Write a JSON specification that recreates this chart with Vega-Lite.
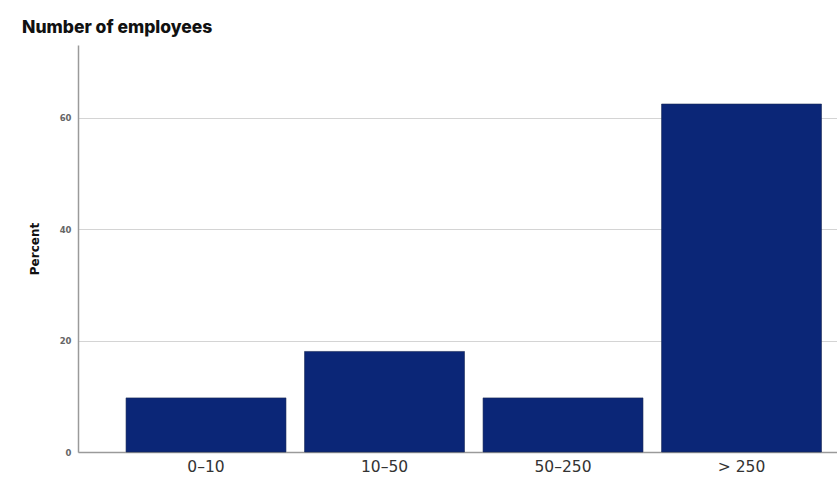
{
  "$schema": "https://vega.github.io/schema/vega-lite/v6.json",
  "autosize": {"type": "none"},
  "width": 759,
  "height": 407,
  "padding": {"left": 78, "top": 45, "right": 0, "bottom": 36},
  "background": "white",
  "title": {
    "text": "Number of employees",
    "anchor": "start",
    "frame": "group",
    "dx": -56,
    "offset": 9,
    "font": "Inter",
    "fontSize": 17.5,
    "fontWeight": 800,
    "color": "#111111"
  },
  "data": {
    "values": [
      {"size": "0–10", "percent": 9.72},
      {"size": "10–50", "percent": 18.06},
      {"size": "50–250", "percent": 9.72},
      {"size": "> 250", "percent": 62.5}
    ]
  },
  "mark": {"type": "bar", "color": "#0b2677", "stroke": "#1a2a55", "strokeWidth": 0.6},
  "encoding": {
    "x": {
      "field": "size",
      "type": "nominal",
      "sort": null,
      "scale": {"paddingInner": 0.104, "paddingOuter": 0.178, "align": 0.756},
      "axis": {
        "title": null,
        "labelAngle": 0,
        "ticks": false,
        "labelPadding": 7,
        "labelFont": "DejaVu Sans",
        "labelFontSize": 15.5,
        "labelColor": "#333333",
        "domainColor": "#9a9a9a",
        "domainWidth": 1.5
      }
    },
    "y": {
      "field": "percent",
      "type": "quantitative",
      "scale": {"domain": [0, 73.1], "nice": false},
      "axis": {
        "title": "Percent",
        "values": [0, 20, 40, 60],
        "ticks": false,
        "labelPadding": 7,
        "labelFont": "DejaVu Sans",
        "labelFontSize": 8.5,
        "labelFontWeight": "bold",
        "labelColor": "#666666",
        "titleFont": "DejaVu Sans",
        "titleFontSize": 12,
        "titleFontWeight": "bold",
        "titleColor": "#111111",
        "titlePadding": 18,
        "domainColor": "#9a9a9a",
        "domainWidth": 1.5,
        "gridColor": "#d4d4d4",
        "gridWidth": 1.2
      }
    }
  },
  "config": {"view": {"stroke": null}}
}
